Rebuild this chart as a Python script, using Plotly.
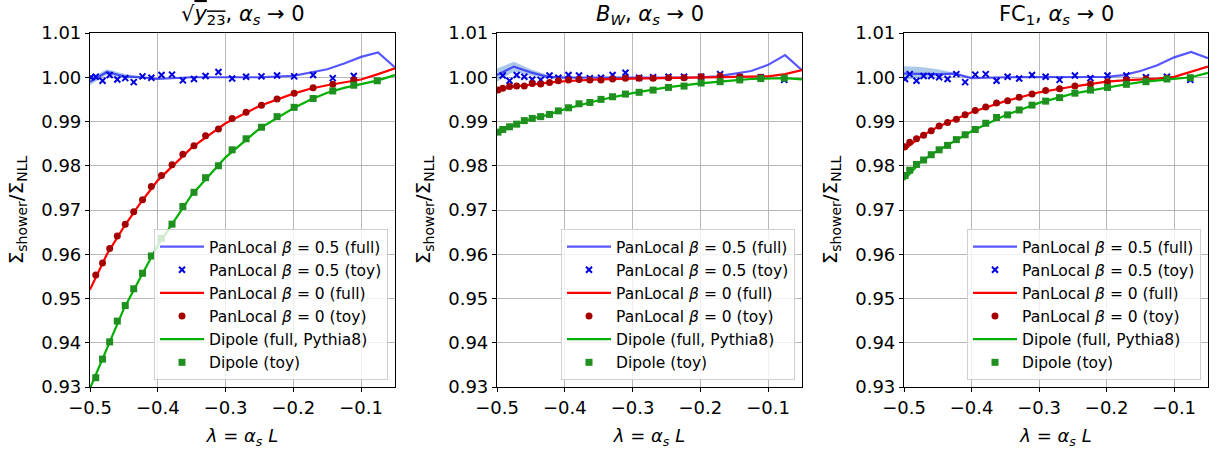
import plotly.graph_objects as go

# ---------------- data ----------------
LAM_LINE = [-0.5, -0.475, -0.45, -0.425, -0.4, -0.35, -0.3, -0.25, -0.2, -0.175, -0.15, -0.125, -0.1, -0.075, -0.05]
LAM_TOY = [-0.4985, -0.4915, -0.4815, -0.471, -0.4597, -0.448, -0.4355, -0.4225, -0.4095, -0.3945, -0.379, -0.363,
           -0.3466, -0.3295, -0.3105, -0.2903, -0.2697, -0.247, -0.224, -0.1988, -0.1708, -0.1418, -0.1108, -0.0762]
LAM_BAND = [-0.5, -0.475, -0.45, -0.425, -0.4]

# panel 1: sqrt(y23)
p1_blue_full = [0.9990, 1.0012, 1.0002, 1.0000, 0.9996, 1.0000, 1.0000, 1.0000, 1.0003, 1.0010, 1.0018, 1.0031, 1.0046, 1.0056, 1.0022]
p1_red_full = [0.9520, 0.9600, 0.9662, 0.9717, 0.9767, 0.9841, 0.9896, 0.9935, 0.9963, 0.9974, 0.9982, 0.9989, 0.9995, 1.0007, 1.0020]
p1_green_full = [0.9297, 0.9386, 0.9477, 0.9549, 0.9620, 0.9734, 0.9819, 0.9884, 0.9930, 0.9949, 0.9965, 0.9976, 0.9985, 0.9993, 1.0005]
p1_blue_toy = [1.0000, 1.0001, 0.9992, 1.0005, 0.9995, 0.9998, 0.9989, 1.0002, 0.9999, 1.0005, 1.0006, 0.9993,
               0.9996, 1.0003, 1.0012, 0.9997, 1.0001, 1.0002, 1.0004, 1.0002, 1.0005, 0.9998, 1.0003, None]
p1_red_toy = [None, 0.9553, 0.9580, 0.9613, 0.9641, 0.9668, 0.9696, 0.9723, 0.9753, 0.9778, 0.9802, 0.9826,
              0.9845, 0.9868, 0.9883, 0.9907, 0.9921, 0.9937, 0.9951, 0.9964, 0.9976, 0.9984, 0.9994, None]
p1_green_toy = [None, 0.9321, 0.9363, 0.9402, 0.9449, 0.9484, 0.9522, 0.9557, 0.9596, 0.9636, 0.9668, 0.9708,
                0.9740, 0.9773, 0.9800, 0.9836, 0.9861, 0.9887, 0.9911, 0.9932, 0.9952, 0.9969, 0.9982, 0.9992]
p1_band_hi = [0.9998, 1.0018, 1.0008, 1.0002, 0.9998]
p1_band_lo = [0.9982, 1.0006, 0.9997, 0.9998, 0.9995]

# panel 2: B_W
p2_blue_full = [1.0005, 1.0024, 1.0011, 1.0001, 0.9999, 0.9999, 0.9999, 1.0000, 1.0000, 1.0002, 1.0008, 1.0014, 1.0028, 1.0050, 1.0016]
p2_red_full = [0.9970, 0.9979, 0.9983, 0.9988, 0.9991, 0.9995, 0.9997, 0.9998, 0.9999, 0.9999, 1.0000, 1.0000, 1.0002, 1.0007, 1.0016]
p2_green_full = [0.9873, 0.9892, 0.9906, 0.9915, 0.9928, 0.9948, 0.9964, 0.9977, 0.9986, 0.9990, 0.9993, 0.9996, 0.9997, 0.9998, 0.9995]
p2_blue_toy = [None, 1.0004, 0.9992, 1.0005, 1.0001, 0.9995, 0.9994, 1.0004, 0.9999, 1.0005, 1.0004, 0.9998,
               0.9999, 1.0005, 1.0010, 0.9999, 1.0000, 1.0001, 1.0001, 1.0001, 1.0007, 1.0000, 1.0000, 0.9994]
p2_red_toy = [0.9971, 0.9975, 0.9979, 0.9980, 0.9980, 0.9986, 0.9985, 0.9988, 0.9992, 0.9994, 0.9995, 0.9994,
              0.9994, 0.9996, 0.9998, 0.9998, 0.9998, 0.9999, 0.9999, 1.0001, 1.0003, 1.0001, 1.0000, None]
p2_green_toy = [0.9876, 0.9882, 0.9888, 0.9894, 0.9902, 0.9907, 0.9911, 0.9916, 0.9924, 0.9931, 0.9940, 0.9943,
                0.9950, 0.9956, 0.9962, 0.9966, 0.9971, 0.9977, 0.9980, 0.9987, 0.9990, 0.9994, 0.9997, 0.9998]
p2_band_hi = [1.0020, 1.0035, 1.0018, 1.0005, 1.0000]
p2_band_lo = [0.9990, 1.0013, 1.0004, 0.9998, 0.9998]

# panel 3: FC_1
p3_blue_full = [1.0008, 1.0007, 1.0007, 1.0008, 0.9998, 1.0000, 1.0000, 1.0000, 1.0001, 1.0005, 1.0014, 1.0027, 1.0045, 1.0057, 1.0043]
p3_red_full = [0.9836, 0.9866, 0.9888, 0.9904, 0.9921, 0.9946, 0.9966, 0.9979, 0.9990, 0.9993, 0.9995, 0.9997, 1.0001, 1.0013, 1.0024]
p3_green_full = [0.9768, 0.9809, 0.9834, 0.9856, 0.9878, 0.9914, 0.9942, 0.9963, 0.9977, 0.9983, 0.9989, 0.9993, 0.9997, 1.0000, 1.0010]
p3_blue_toy = [0.9996, 1.0007, 0.9992, 1.0003, 1.0003, 1.0000, 0.9996, 1.0007, 0.9989, 1.0006, 1.0007, 0.9992,
               1.0001, 0.9997, 1.0005, 1.0001, 0.9994, 1.0004, 0.9998, 1.0004, 1.0004, 1.0000, 1.0001, 0.9994]
p3_red_toy = [0.9843, 0.9853, 0.9861, 0.9869, 0.9879, 0.9890, 0.9898, 0.9905, 0.9915, 0.9925, 0.9933, 0.9942,
              0.9947, 0.9955, 0.9962, 0.9970, 0.9974, 0.9980, 0.9985, 0.9990, 0.9994, 0.9996, 0.9998, None]
p3_green_toy = [0.9778, 0.9790, 0.9803, 0.9813, 0.9825, 0.9836, 0.9846, 0.9859, 0.9870, 0.9882, 0.9896, 0.9909,
                0.9915, 0.9926, 0.9937, 0.9946, 0.9954, 0.9964, 0.9971, 0.9977, 0.9984, 0.9990, 0.9996, 0.9999]
p3_band_hi = [1.0025, 1.0023, 1.0018, 1.0010, 0.9999]
p3_band_lo = [0.9994, 0.9999, 1.0003, 1.0006, 0.9997]

TITLES = ["√<span style='text-decoration:overline'><i>y</i><sub>23</sub></span>, <i>α<sub>s</sub></i> → 0",
          "<i>B<sub>W</sub></i>, <i>α<sub>s</sub></i> → 0",
          "FC<sub>1</sub>, <i>α<sub>s</sub></i> → 0"]
LEGEND_NAMES = ["PanLocal <i>β</i> = 0.5 (full)", "PanLocal <i>β</i> = 0.5 (toy)",
                "PanLocal <i>β</i> = 0 (full)", "PanLocal <i>β</i> = 0 (toy)",
                "Dipole (full, Pythia8)", "Dipole (toy)"]
X_TICKS = [-0.5, -0.4, -0.3, -0.2, -0.1]
X_TICKTEXT = ["−0.5", "−0.4", "−0.3", "−0.2", "−0.1"]
Y_TICKS = [0.93, 0.94, 0.95, 0.96, 0.97, 0.98, 0.99, 1.00, 1.01]

panels = [
    (p1_blue_full, p1_red_full, p1_green_full, p1_blue_toy, p1_red_toy, p1_green_toy, p1_band_hi, p1_band_lo),
    (p2_blue_full, p2_red_full, p2_green_full, p2_blue_toy, p2_red_toy, p2_green_toy, p2_band_hi, p2_band_lo),
    (p3_blue_full, p3_red_full, p3_green_full, p3_blue_toy, p3_red_toy, p3_green_toy, p3_band_hi, p3_band_lo),
]

# ---------------- figure ----------------
W, H = 1218, 452
x_px = [(90, 395), (497, 802), (904, 1208)]
y_px = (33, 387)
FONT = "DejaVu Sans"

BLUE_LINE = "rgba(40,40,255,0.78)"
BLUE_MARK = "#0000dd"
RED_LINE = "#ff0000"
RED_MARK = "#a50000"
GREEN_LINE = "#00b000"
GREEN_MARK = "#1f8f1f"
BAND = "rgba(90,150,210,0.5)"

fig = go.Figure()
layout = dict(
    width=W, height=H,
    margin=dict(l=0, r=0, t=0, b=0, autoexpand=False),
    paper_bgcolor="white", plot_bgcolor="white",
    font=dict(family=FONT, size=18, color="black"),
    showlegend=True,
    annotations=[],
)

for i, (bf, rf, gf, bt, rt, gt, bh, bl) in enumerate(panels):
    k = "" if i == 0 else str(i + 1)
    xa, ya = "x" + k, "y" + k
    leg = "legend" + k
    fig.add_trace(go.Scatter(x=LAM_BAND + LAM_BAND[::-1], y=bh + bl[::-1], fill="toself",
                             fillcolor=BAND, line=dict(width=0), mode="lines",
                             showlegend=False, hoverinfo="skip", xaxis=xa, yaxis=ya))
    fig.add_trace(go.Scatter(x=LAM_LINE, y=bf, mode="lines", line=dict(color=BLUE_LINE, width=2.2),
                             name=LEGEND_NAMES[0], xaxis=xa, yaxis=ya, legend=leg))
    fig.add_trace(go.Scatter(x=LAM_TOY, y=bt, mode="markers",
                             marker=dict(symbol="x-thin", size=6, line=dict(color=BLUE_MARK, width=2)),
                             name=LEGEND_NAMES[1], xaxis=xa, yaxis=ya, legend=leg))
    fig.add_trace(go.Scatter(x=LAM_LINE, y=rf, mode="lines", line=dict(color=RED_LINE, width=2.2),
                             name=LEGEND_NAMES[2], xaxis=xa, yaxis=ya, legend=leg))
    fig.add_trace(go.Scatter(x=LAM_TOY, y=rt, mode="markers",
                             marker=dict(symbol="circle", size=7, color=RED_MARK),
                             name=LEGEND_NAMES[3], xaxis=xa, yaxis=ya, legend=leg))
    fig.add_trace(go.Scatter(x=LAM_LINE, y=gf, mode="lines", line=dict(color=GREEN_LINE, width=2.2),
                             name=LEGEND_NAMES[4], xaxis=xa, yaxis=ya, legend=leg))
    fig.add_trace(go.Scatter(x=LAM_TOY, y=gt, mode="markers",
                             marker=dict(symbol="square", size=7, color=GREEN_MARK),
                             name=LEGEND_NAMES[5], xaxis=xa, yaxis=ya, legend=leg))

    x0, x1 = x_px[i]
    axis_common = dict(showline=True, mirror=True, linecolor="black", linewidth=1.2,
                       ticks="outside", ticklen=4, tickwidth=1, tickcolor="black",
                       showgrid=True, gridcolor="#b8b8b8", gridwidth=1, zeroline=False,
                       automargin=False,
                       tickfont=dict(family=FONT, size=18, color="black"))
    layout["xaxis" + k] = dict(axis_common, domain=[x0 / W, x1 / W], range=[-0.5, -0.05],
                               anchor=ya, tickvals=X_TICKS, ticktext=X_TICKTEXT,
                               title=dict(text="<i>λ</i> = <i>α<sub>s</sub></i> <i>L</i>",
                                          font=dict(family=FONT, size=18), standoff=12))
    layout["yaxis" + k] = dict(axis_common, domain=[1 - y_px[1] / H, 1 - y_px[0] / H], range=[0.93, 1.01],
                               anchor=xa, tickvals=Y_TICKS, tickformat=".2f",
                               title=dict(text="Σ<sub>shower</sub>/Σ<sub>NLL</sub>",
                                          font=dict(family=FONT, size=20), standoff=12))
    layout[leg] = dict(x=(x1 - 7) / W, y=1 - 229 / H, xanchor="right", yanchor="top",
                       bgcolor="rgba(255,255,255,0.8)", bordercolor="#d0d0d0", borderwidth=1,
                       font=dict(family=FONT, size=15.5, color="black"), traceorder="normal",
                       tracegroupgap=0, itemwidth=44)
    layout["annotations"].append(dict(text=TITLES[i], x=(x0 + x1) / 2 / W, y=1 - 15 / H,
                                      xref="paper", yref="paper", xanchor="center", yanchor="middle",
                                      showarrow=False, font=dict(family=FONT, size=21, color="black")))

fig.update_layout(**layout)
fig.write_html("out.html", config={"displayModeBar": False},
               post_script="document.body.style.margin='0';document.body.style.padding='0';")
